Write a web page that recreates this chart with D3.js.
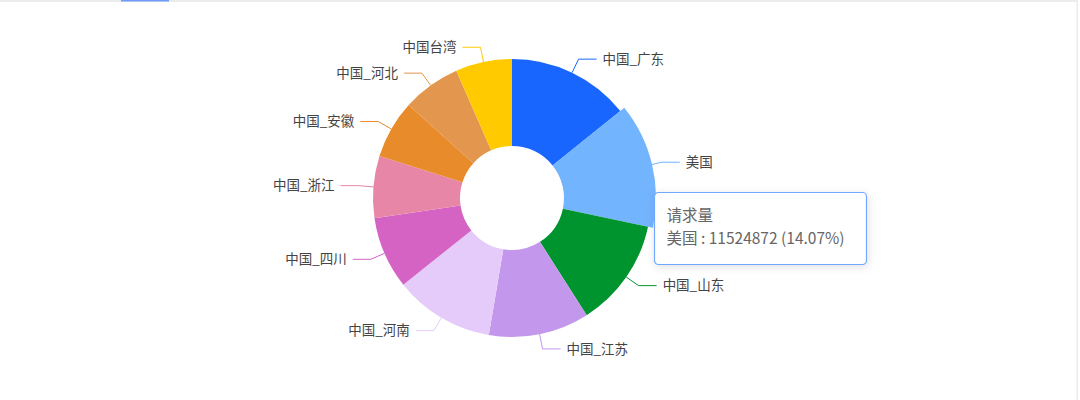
<!DOCTYPE html>
<html><head><meta charset="utf-8">
<script src="https://cdn.jsdelivr.net/npm/d3@7/dist/d3.min.js"></script>
<style>
html,body{margin:0;padding:0;background:#fff;width:1080px;height:400px;overflow:hidden;font-family:"Noto Sans CJK SC","Noto Sans",sans-serif;}
</style></head><body>
<svg id="chart" width="1080" height="400"></svg>
<script>
const categories = ["中国_广东","美国","中国_山东","中国_江苏","中国_河南","中国_四川","中国_浙江","中国_安徽","中国_河北","中国台湾"];
const values = [11652000, 11524872, 10372000, 9583000, 9515000, 6872000, 5894000, 5555000, 5552000, 5372000];
const colors = ["#1966FF","#73B4FF","#00942F","#C397EC","#E5CBF9","#D563C4","#E886A7","#E88B2B","#E3964D","#FFCB00"];
const seriesName = "请求量";
const highlighted = "美国";

const svg = d3.select("#chart");
// top frame & tab indicator
svg.append("rect").attr("x",0).attr("y",0).attr("width",1078).attr("height",2).attr("fill","#ececef");
svg.append("rect").attr("x",121).attr("y",0).attr("width",48).attr("height",1.5).attr("fill","#6f9cf5");
svg.append("rect").attr("x",1076.5).attr("y",0).attr("width",1.5).attr("height",400).attr("fill","#ebe9f2");

const cx = 512, cy = 198, rIn = 52, rOut = 139, emph = 5;
const data = categories.map((c,i)=>({name:c,value:values[i],color:colors[i]}));
const total = d3.sum(values);
const pie = d3.pie().value(d=>d.value).sort(null);
const arcs = pie(data);
const g = svg.append("g").attr("transform",`translate(${cx},${cy})`);

// label lines + labels
const lenA = 15, lenB = 18, gap = 6;
arcs.forEach(a=>{
  const m = (a.startAngle+a.endAngle)/2;
  const sx = Math.sin(m), sy = -Math.cos(m);
  const p0 = [sx*rOut, sy*rOut];
  const p1 = [sx*(rOut+lenA), sy*(rOut+lenA)];
  const dir = sx >= 0 ? 1 : -1;
  const p2 = [p1[0]+dir*lenB, p1[1]];
  g.append("polyline").attr("points",[p0,p1,p2].map(p=>p.join(",")).join(" "))
    .attr("fill","none").attr("stroke",a.data.color).attr("stroke-width",1);
  g.append("text").attr("x",p2[0]+dir*gap).attr("y",p2[1])
    .attr("dy","0.35em").attr("text-anchor",dir>0?"start":"end")
    .attr("font-size",13.5).attr("fill","#444").text(a.data.name);
});

const arcGen = d3.arc().innerRadius(rIn).outerRadius(rOut);
const arcEm = d3.arc().innerRadius(rIn).outerRadius(rOut+emph);
g.selectAll("path.slice").data(arcs).enter().append("path")
  .attr("class","slice")
  .attr("d",d=>d.data.name===highlighted?arcEm(d):arcGen(d))
  .attr("fill",d=>d.data.color);

// tooltip
const h = arcs.find(a=>a.data.name===highlighted);
const defs = svg.append("defs");
const f = defs.append("filter").attr("id","sh").attr("x","-20%").attr("y","-30%").attr("width","140%").attr("height","160%");
f.append("feDropShadow").attr("dx",1).attr("dy",2).attr("stdDeviation",4).attr("flood-color","#000").attr("flood-opacity",0.12);
const tt = svg.append("g").attr("transform","translate(654.5,192.5)");
tt.append("rect").attr("width",212).attr("height",72).attr("rx",4)
  .attr("fill","#fff").attr("stroke","#6fa8ff").attr("stroke-width",1.2).attr("filter","url(#sh)");
tt.append("text").attr("x",12).attr("y",23).attr("dy","0.35em").attr("font-size",15.5).attr("fill","#666").text(seriesName);
const pct = (h.data.value/total*100).toFixed(2);
tt.append("text").attr("x",12).attr("y",46).attr("dy","0.35em").attr("font-size",15.5).attr("fill","#666")
  .text(`${h.data.name} : ${h.data.value} (${pct}%)`);
</script>
</body></html>
